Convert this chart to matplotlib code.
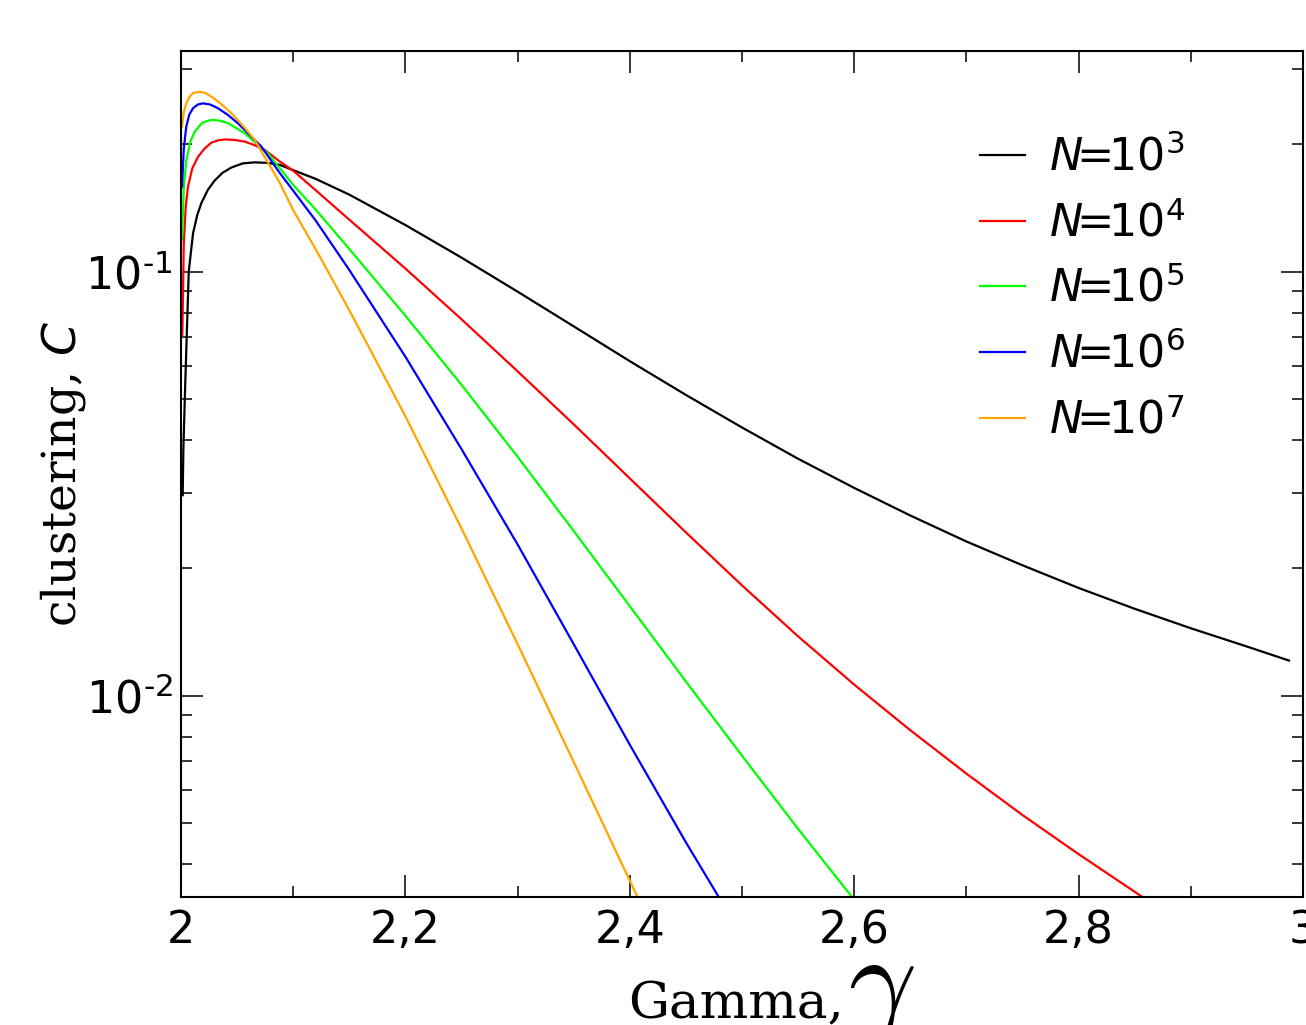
import numpy as np
import matplotlib
matplotlib.use('Agg')
import matplotlib.pyplot as plt
from matplotlib.ticker import FixedLocator, FuncFormatter, LogLocator

###############################################################################
# Clustering coefficient vs. degree exponent, one curve per network size
###############################################################################
SIZES = ['3', '4', '5', '6', '7']
COLORS = ['#000000', '#ff0000', '#00ff00', '#0000ff', '#ffa500']

G_1E3 = [2.0015, 2.0021, 2.0038, 2.0069, 2.0107, 2.0145, 2.0181, 2.024, 2.030,
         2.037, 2.0449, 2.055, 2.0657, 2.077, 2.0882, 2.10, 2.12, 2.15, 2.20,
         2.25, 2.30, 2.35, 2.40, 2.45, 2.50, 2.55, 2.60, 2.65, 2.70, 2.75, 2.80,
         2.85, 2.90, 2.95, 2.9875]
C_1E3 = [0.0297, 0.038, 0.0546, 0.100, 0.123, 0.136, 0.145, 0.156, 0.164,
         0.171, 0.176, 0.180, 0.181, 0.1805, 0.1785, 0.1735, 0.1655, 0.1519,
         0.1288, 0.1079, 0.0897, 0.0743, 0.0615, 0.0512, 0.0429, 0.0362,
         0.0309, 0.0266, 0.0231, 0.0203, 0.01795, 0.01603, 0.01442, 0.01306,
         0.0121]

G_1E4 = [2.0012, 2.0025, 2.0042, 2.0062, 2.010, 2.0152, 2.021, 2.027, 2.033,
         2.039, 2.0475, 2.0568, 2.0655, 2.0746, 2.0882, 2.10, 2.12, 2.15, 2.20,
         2.25, 2.30, 2.35, 2.40, 2.45, 2.50, 2.55, 2.60, 2.65, 2.70, 2.75, 2.80,
         2.857, 2.87]
C_1E4 = [0.071, 0.117, 0.142, 0.1586, 0.175, 0.1866, 0.195, 0.2014, 0.204,
         0.205, 0.2045, 0.2026, 0.1988, 0.1937, 0.1817, 0.173, 0.1556, 0.1326,
         0.1017, 0.0772, 0.0582, 0.04365, 0.03254, 0.02427, 0.0182, 0.0138,
         0.01062, 0.00829, 0.00655, 0.00523, 0.00423, 0.00335, 0.0031]

G_1E5 = [2.0009, 2.0025, 2.0047, 2.0085, 2.0122, 2.019, 2.027, 2.0345, 2.0419,
         2.0568, 2.0775, 2.10, 2.12, 2.15, 2.20, 2.25, 2.30, 2.35, 2.40, 2.45,
         2.50, 2.55, 2.5977, 2.61]
C_1E5 = [0.119, 0.158, 0.183, 0.203, 0.2138, 0.2245, 0.228, 0.227, 0.224,
         0.212, 0.190, 0.1601, 0.1401, 0.1131, 0.0787, 0.0541, 0.0366,
         0.02446, 0.01626, 0.0108, 0.00722, 0.00485, 0.00336, 0.0031]

G_1E6 = [2.0009, 2.0025, 2.0047, 2.0075, 2.0107, 2.015, 2.0196, 2.026, 2.033,
         2.0415, 2.0508, 2.0716, 2.0882, 2.10, 2.12, 2.15, 2.20, 2.25, 2.30,
         2.35, 2.40, 2.45, 2.479, 2.49]
C_1E6 = [0.1586, 0.195, 0.2198, 0.235, 0.2428, 0.2478, 0.2494, 0.2478, 0.2428,
         0.2345, 0.2238, 0.1972, 0.1706, 0.1552, 0.132, 0.1009, 0.063, 0.03815,
         0.02273, 0.01323, 0.00766, 0.00451, 0.00336, 0.0031]

G_1E7 = [2.0009, 2.0025, 2.0047, 2.0075, 2.0107, 2.0166, 2.022, 2.027, 2.035,
         2.0449, 2.055, 2.0657, 2.0882, 2.10, 2.12, 2.15, 2.20, 2.25, 2.30, 2.35,
         2.4067, 2.415]
C_1E7 = [0.22, 0.238, 0.2494, 0.258, 0.2636, 0.2658, 0.2635, 0.2588, 0.2495,
         0.2364, 0.221, 0.2046, 0.1616, 0.1396, 0.113, 0.0811, 0.0456, 0.0248,
         0.01323, 0.00698, 0.00336, 0.0031]

X_TICKS = [2.0, 2.2, 2.4, 2.6, 2.8, 3.0]
X_MINOR = [2.1, 2.3, 2.5, 2.7, 2.9]

GAMMAS = [G_1E3, G_1E4, G_1E5, G_1E6, G_1E7]
CLUST = [C_1E3, C_1E4, C_1E5, C_1E6, C_1E7]

###############################################################################
# Plot
###############################################################################
FS_TICK = 32
FS_LEG = 32
FS_LAB = 34
HYPHEN = '\u2010'

fig = plt.figure(figsize=(13.06, 10.25), dpi=100)
ax = fig.add_axes([181/1306, 1-896.7/1025, 1122/1306, 846/1025])

for (gam, clu, exp, col) in zip(GAMMAS, CLUST, SIZES, COLORS):
    ax.plot(gam, clu, color=col, lw=1.6, label=r'$N\!\!=\!\!10^{%s}$' % exp)

ax.set_yscale('log')
ax.set_xlim(2.0, 3.0)
ax.set_ylim(0.003357, 0.3319)

ax.xaxis.set_major_locator(FixedLocator(X_TICKS))
ax.xaxis.set_minor_locator(FixedLocator(X_MINOR))
ax.xaxis.set_major_formatter(FuncFormatter(lambda v, p: '{:g}'.format(v).replace('.', ',')))
ax.yaxis.set_major_locator(LogLocator(base=10))
ax.yaxis.set_minor_locator(LogLocator(base=10, subs=np.arange(2, 10)))
# plain hyphen in the exponent instead of a math minus
ax.yaxis.set_major_formatter(FuncFormatter(
    lambda v, p: '$\\mathdefault{10^{%s%d}}$' % (HYPHEN, abs(round(np.log10(v))))))

ax.tick_params(which='both', direction='in', top=True, right=True, width=1.1)
ax.tick_params(which='major', length=16)
ax.tick_params(which='minor', length=8)
ax.tick_params(axis='x', which='major', pad=9)
ax.tick_params(axis='y', which='major', pad=6)
for lab in ax.get_xticklabels() + ax.get_yticklabels():
    lab.set_fontsize(FS_TICK)
for sp in ax.spines.values():
    sp.set_linewidth(1.5)

# x label: serif word plus an oversized gamma
fig.text(628/1306, 1-1018/1025, 'Gamma,', fontsize=37, family='DejaVu Serif',
         ha='left', va='baseline')
fig.text(848/1306, 1-1018/1025, r'$\gamma$', fontsize=86, math_fontfamily='cm',
         ha='left', va='baseline')

ax.set_ylabel(r'clustering, $C$', fontsize=FS_LAB, family='DejaVu Serif',
              math_fontfamily='dejavusans')
ax.yaxis.set_label_coords(-0.083, 0.5)

leg = ax.legend(loc='upper left', bbox_to_anchor=(0.6965, 0.921), frameon=False,
                fontsize=FS_LEG, handlelength=1.0, handletextpad=0.55,
                labelspacing=0.485, borderaxespad=0)
for ln in leg.get_lines():
    ln.set_linewidth(1.6)

fig.savefig('out.png', dpi=100, facecolor='white')
